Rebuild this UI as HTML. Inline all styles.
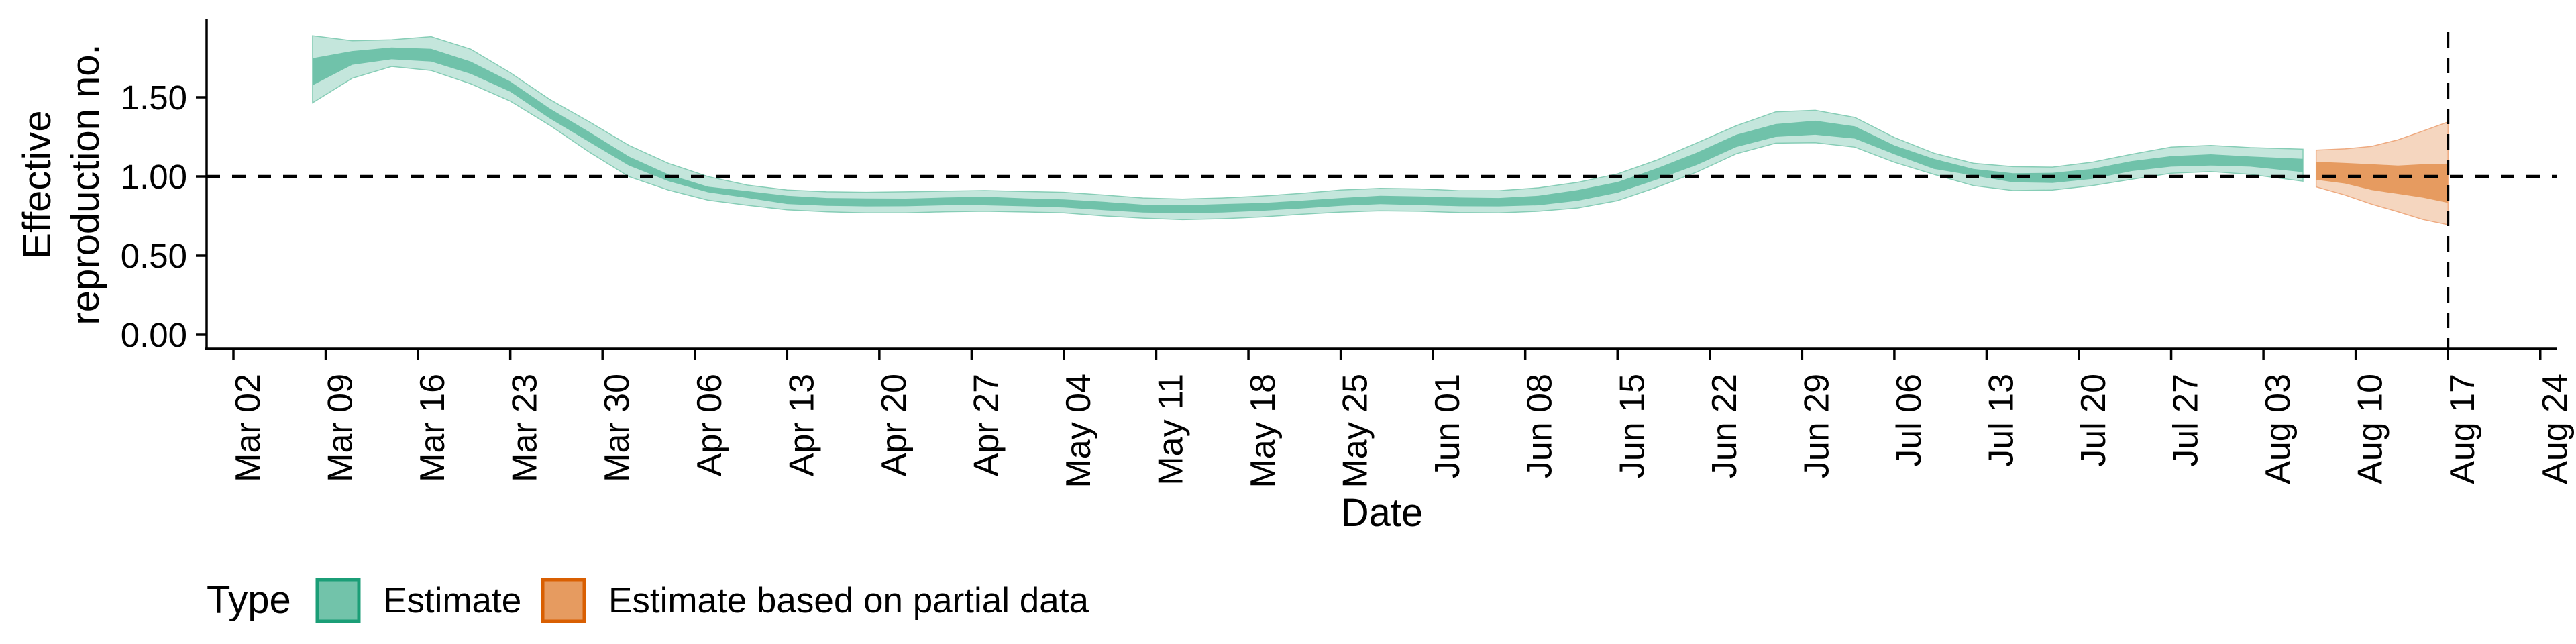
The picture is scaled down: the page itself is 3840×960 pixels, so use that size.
<!DOCTYPE html>
<html><head><meta charset="utf-8"><style>
html,body{margin:0;padding:0;background:#fff;}
svg{display:block;font-family:"Liberation Sans",Arial,sans-serif;}
</style></head><body>
<svg id="chart" width="3840" height="960" viewBox="0 0 3840 960" xmlns="http://www.w3.org/2000/svg">
<rect width="3840" height="960" fill="#fff"/>
<g id="bands"></g>
<g id="axes"></g>
<text x="2060" y="784" font-size="58" text-anchor="middle">Date</text>
<g transform="translate(75,275) rotate(-90)">
<text x="0" y="0" font-size="58" text-anchor="middle">Effective</text>
<text x="0" y="72" font-size="58" text-anchor="middle">reproduction no.</text>
</g>
<g>
<text x="308" y="914" font-size="58">Type</text>
<g>
<rect x="473" y="864" width="62" height="62" fill="#72c3aa" stroke="#1b9e77" stroke-width="5"/>
<text x="571" y="913" font-size="53">Estimate</text>
</g>
<g>
<rect x="809" y="864" width="62" height="62" fill="#e69b60" stroke="#d95f02" stroke-width="5"/>
<text x="907" y="913" font-size="53">Estimate based on partial data</text>
</g>
</g>
</svg>
<script>
// Estimate (green) — days since Mar 02
const estDays = [6,9,12,15,18,21,24,27,30,33,36,39,42,45,48,51,54,57,60,63,66,69,72,75,78,81,84,87,90,93,96,99,102,105,108,111,114,117,120,123,126,129,132,135,138,141,144,147,150,153,157];
const estHi90 = [1.889,1.857,1.863,1.883,1.804,1.655,1.486,1.345,1.196,1.083,0.999,0.945,0.914,0.903,0.900,0.903,0.907,0.911,0.905,0.900,0.883,0.864,0.857,0.864,0.876,0.893,0.914,0.925,0.921,0.910,0.910,0.928,0.963,1.016,1.104,1.211,1.320,1.408,1.418,1.373,1.246,1.147,1.083,1.062,1.059,1.090,1.140,1.185,1.196,1.182,1.172];
const estHi50 = [1.747,1.792,1.815,1.806,1.726,1.600,1.429,1.281,1.126,1.013,0.935,0.907,0.878,0.864,0.861,0.860,0.867,0.872,0.862,0.855,0.840,0.822,0.818,0.826,0.832,0.847,0.864,0.878,0.874,0.867,0.864,0.878,0.914,0.965,1.052,1.150,1.263,1.331,1.352,1.317,1.196,1.111,1.048,1.020,1.023,1.048,1.097,1.128,1.140,1.126,1.111];
const estLo50 = [1.575,1.705,1.740,1.726,1.648,1.535,1.366,1.217,1.069,0.970,0.900,0.864,0.826,0.815,0.811,0.812,0.818,0.818,0.812,0.804,0.787,0.772,0.768,0.772,0.783,0.798,0.815,0.825,0.819,0.812,0.811,0.818,0.846,0.897,0.981,1.072,1.185,1.250,1.263,1.239,1.140,1.048,1.006,0.963,0.959,0.984,1.034,1.062,1.069,1.062,1.027];
const estLo90 = [1.465,1.620,1.695,1.669,1.585,1.476,1.323,1.154,0.999,0.914,0.850,0.818,0.789,0.777,0.770,0.770,0.777,0.780,0.776,0.770,0.751,0.737,0.727,0.733,0.744,0.761,0.775,0.783,0.780,0.772,0.770,0.780,0.801,0.847,0.932,1.027,1.143,1.210,1.213,1.185,1.090,1.013,0.942,0.911,0.914,0.942,0.982,1.020,1.031,1.013,0.970];
// Partial data (orange)
const partDays = [158,160.2,162.2,164.2,166.1,168];
const partHi90 = [1.166,1.174,1.190,1.231,1.287,1.344];
const partHi50 = [1.093,1.085,1.077,1.069,1.077,1.081];
const partLo50 = [0.979,0.955,0.914,0.890,0.866,0.833];
const partLo90 = [0.934,0.882,0.825,0.777,0.728,0.695];
// Axis ticks
const yTicks = [0,0.5,1,1.5];
const yTickLabels = ["0.00","0.50","1.00","1.50"];
const xTickLabels = ["Mar 02","Mar 09","Mar 16","Mar 23","Mar 30","Apr 06","Apr 13","Apr 20","Apr 27","May 04","May 11","May 18","May 25","Jun 01","Jun 08","Jun 15","Jun 22","Jun 29","Jul 06","Jul 13","Jul 20","Jul 27","Aug 03","Aug 10","Aug 17","Aug 24"];
const refLineValue = 1;
const forecastDay = 168;

const NS = "http://www.w3.org/2000/svg";
const X0 = 348, PXD = 19.65, XEND = 3811;
function xs(d){ return X0 + d * PXD; }
function ys(v){ return 499 - 236 * v; }
function mk(tag, attrs, parent){ const e = document.createElementNS(NS, tag); for (const k in attrs) e.setAttribute(k, attrs[k]); parent.appendChild(e); return e; }
function bandPath(days, hi, lo){
  let p = "";
  days.forEach((d,i)=>{ p += (i? "L":"M") + xs(d).toFixed(1) + "," + ys(hi[i]).toFixed(1); });
  for (let i = days.length-1; i >= 0; i--) p += "L" + xs(days[i]).toFixed(1) + "," + ys(lo[i]).toFixed(1);
  return p + "Z";
}
const bands = document.getElementById("bands");
const axes = document.getElementById("axes");

let e;
e = mk("path", {d: bandPath(estDays, estHi90, estLo90), fill:"#c4e6dc", stroke:"#86cdb6", "stroke-width":"1.5"}, bands);


e = mk("path", {d: bandPath(estDays, estHi50, estLo50), fill:"#70c2aa"}, bands);


e = mk("path", {d: bandPath(partDays, partHi90, partLo90), fill:"#f5d6bf", stroke:"#eeaa80", "stroke-width":"1.5"}, bands);


e = mk("path", {d: bandPath(partDays, partHi50, partLo50), fill:"#e69b60"}, bands);



// reference lines
e = mk("line", {x1:308, x2:XEND, y1:ys(refLineValue), y2:ys(refLineValue), stroke:"#000", "stroke-width":"4.5", "stroke-dasharray":"20 18"}, axes);


e = mk("line", {x1:xs(forecastDay), x2:xs(forecastDay), y1:48, y2:521, stroke:"#000", "stroke-width":"4", "stroke-dasharray":"23 15"}, axes);



// axis lines
e = mk("line", {x1:308, x2:308, y1:29, y2:522, stroke:"#000", "stroke-width":"3.5"}, axes);


e = mk("line", {x1:306, x2:XEND, y1:520, y2:520, stroke:"#000", "stroke-width":"3.5"}, axes);



yTicks.forEach((v,i)=>{
  const y = ys(v);
  let t = mk("line", {x1:292, x2:308, y1:y, y2:y, stroke:"#000", "stroke-width":"3.5"}, axes);
  
  
  let l = mk("text", {x:279, y:y+18, "font-size":"51", "text-anchor":"end"}, axes);
  l.textContent = yTickLabels[i];
  
  
});
xTickLabels.forEach((lab,i)=>{
  const x = xs(i*7);
  let t = mk("line", {x1:x, x2:x, y1:520, y2:536, stroke:"#000", "stroke-width":"3.5"}, axes);
  
  
  let l = mk("text", {x:0, y:0, "font-size":"52", "text-anchor":"end", transform:"translate(" + (x+39) + ",557) rotate(-90)"}, axes);
  l.textContent = lab;
  
  
});
</script>
</body></html>
